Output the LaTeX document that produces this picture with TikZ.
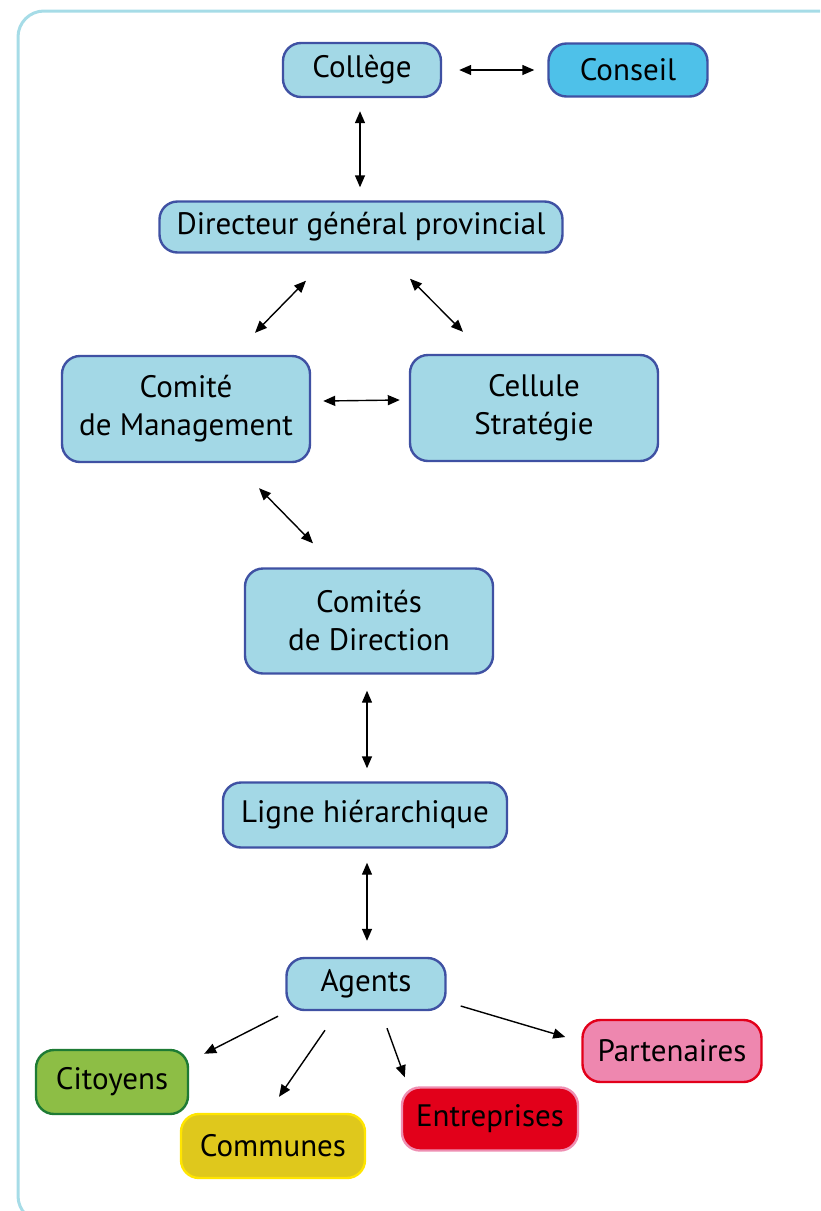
\documentclass[tikz,border=0pt]{standalone}
\usepackage{fontspec}
\setmainfont{PT Sans}
\usetikzlibrary{arrows.meta}

\definecolor{frameblue}{HTML}{A6DCE7}
\definecolor{boxblue}{HTML}{A3D8E6}
\definecolor{edgeblue}{HTML}{3F51A3}
\definecolor{skyblue}{HTML}{4EC1E9}
\definecolor{leaf}{HTML}{8DBE45}
\definecolor{leafedge}{HTML}{1E7B34}
\definecolor{mustard}{HTML}{DFC81C}
\definecolor{lemon}{HTML}{FFE500}
\definecolor{signal}{HTML}{E2001A}
\definecolor{rose}{HTML}{EE87AF}
\definecolor{roseedge}{HTML}{EE8FB2}

\begin{document}
\begin{tikzpicture}[x=1pt,y=-1pt,>={Triangle[length=12pt,width=10pt]},
  box/.style={rounded corners=18pt,draw=edgeblue,fill=boxblue,line width=2.4pt,
    inner sep=0pt,align=center,font=\fontsize{31}{38}\selectfont},
  link/.style={line width=1.4pt}]
  \useasboundingbox (0,0) rectangle (820,1211);
  \begin{scope}
    \clip (0,0) rectangle (820,1211);
    \draw[frameblue,line width=3pt,rounded corners=26pt] (18,11) rectangle (845,1222);
  \end{scope}

  \node[box,minimum width=158pt,minimum height=54pt] (college) at (362,70) {Collège};
  \node[box,fill=skyblue,minimum width=159pt,minimum height=53pt] (conseil) at (628,70) {Conseil};
  \node[box,minimum width=403pt,minimum height=51pt] (dir) at (361,227) {Directeur général provincial};
  \node[box,minimum width=248pt,minimum height=106pt] (cdm) at (186,409) {Comité\\de Management};
  \node[box,minimum width=248pt,minimum height=106pt] (cell) at (534,408) {Cellule\\Stratégie};
  \node[box,minimum width=248pt,minimum height=105pt] (codir) at (369,621) {Comités\\de Direction};
  \node[box,minimum width=284pt,minimum height=65pt] (ligne) at (365,815) {Ligne hiérarchique};
  \node[box,minimum width=159pt,minimum height=52pt] (agents) at (366,984) {Agents};
  \node[box,draw=leafedge,fill=leaf,minimum width=152pt,minimum height=64pt] (citoyens) at (112,1082) {Citoyens};
  \node[box,draw=lemon,fill=mustard,minimum width=184pt,minimum height=64pt] (communes) at (273,1146) {Communes};
  \node[box,draw=roseedge,fill=signal,minimum width=176pt,minimum height=63pt] (entr) at (490,1119) {Entreprises};
  \node[box,draw=signal,fill=rose,minimum width=179pt,minimum height=62pt] (part) at (672,1051) {Partenaires};

  \draw[link,<->] ([xshift=17pt]college.east) -- ([xshift=-13pt]conseil.west);
  \draw[link,<->] ([xshift=-2pt,yshift=-13pt]college.south) -- ([xshift=-1pt,yshift=13pt]dir.north);
  \draw[link,<->] ([xshift=-55pt,yshift=-27pt]dir.south) -- ([xshift=69pt,yshift=22pt]cdm.north);
  \draw[link,<->] ([xshift=49pt,yshift=-25pt]dir.south) -- ([xshift=-71pt,yshift=22pt]cell.north);
  \draw[link,<->] ([xshift=12pt,yshift=8pt]cdm.east) -- ([xshift=-9pt,yshift=8pt]cell.west);
  \draw[link,<->] ([xshift=73pt,yshift=-25pt]cdm.south) -- ([xshift=-56pt,yshift=24pt]codir.north);
  \draw[link,<->] ([xshift=-2pt,yshift=-16pt]codir.south) -- ([xshift=2pt,yshift=13pt]ligne.north);
  \draw[link,<->] ([xshift=2pt,yshift=-14pt]ligne.south) -- ([xshift=1pt,yshift=16pt]agents.north);

  \draw[link,->] ([xshift=-88pt,yshift=-5pt]agents.south) -- ([xshift=15pt,yshift=-5pt]citoyens.north east);
  \draw[link,->] ([xshift=-41pt,yshift=-19pt]agents.south) -- ([xshift=6pt,yshift=16pt]communes.north);
  \draw[link,->] ([xshift=21pt,yshift=-17pt]agents.south) -- ([xshift=4pt,yshift=9pt]entr.north west);
  \draw[link,->] ([xshift=14pt,yshift=-22pt]agents.east) -- ([xshift=-16pt,yshift=14pt]part.west);
\end{tikzpicture}
\end{document}
